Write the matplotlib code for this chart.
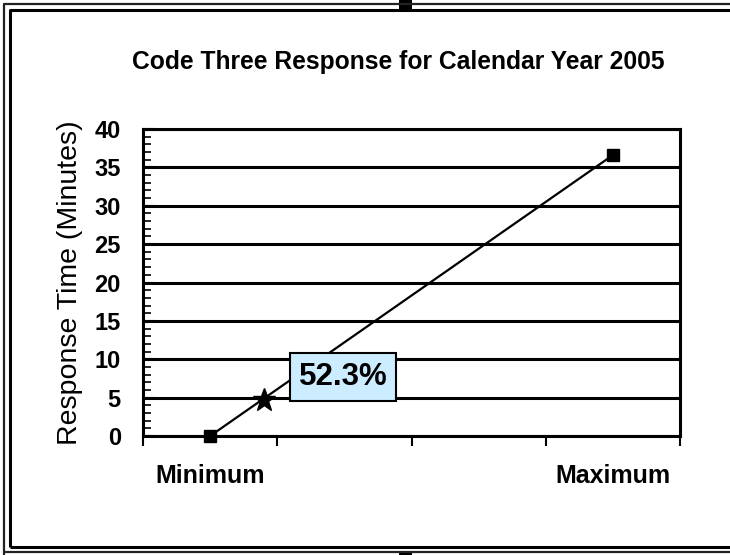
import matplotlib
matplotlib.use("Agg")
import matplotlib.pyplot as plt
from matplotlib.lines import Line2D
from matplotlib.patches import Rectangle
from matplotlib.ticker import MultipleLocator, FixedLocator, NullFormatter

plt.rcParams['font.family'] = ['Liberation Sans', 'DejaVu Sans']

# Chart data
categories = ["Minimum", "", "", "Maximum"]
line_x = [0, 3]
line_y = [0.0, 36.6]
star_x = [0.40]
star_y = [4.7]
note_text = "52.3%"
note_x = 0.99
note_y = 7.7
title = "Code Three Response for Calendar Year 2005"
ylabel = "Response Time (Minutes)"
y_ticks = [0, 5, 10, 15, 20, 25, 30, 35, 40]

W, H = 730, 555
fig = plt.figure(figsize=(W / 100, H / 100), dpi=100)
fig.patch.set_facecolor("white")

ax = fig.add_axes([143 / W, 1 - 436 / H, (680 - 143) / W, (436 - 129) / H])
ax.set_xlim(-0.5, len(categories) - 0.5)
ax.set_ylim(0, 40)

# horizontal gridlines
for yv in y_ticks:
    ax.axhline(yv, color="black", lw=2.2, zorder=1, solid_capstyle="butt")

ax.plot(line_x, line_y, color="black", lw=1.6, zorder=3, clip_on=False,
        marker="s", markersize=8, markerfacecolor="black", markeredgecolor="black")
ax.plot(star_x, star_y, linestyle="none", marker="*", markersize=17,
        color="black", zorder=4)

ax.text(note_x, note_y, note_text, ha="center", va="center", fontsize=22.5,
        fontweight="bold", zorder=5,
        bbox=dict(boxstyle="square,pad=0.28", facecolor="#CCECFF",
                  edgecolor="black", linewidth=1.5))

for side in ["left", "right", "top", "bottom"]:
    ax.spines[side].set_linewidth(2.2)
    ax.spines[side].set_color("black")

# y axis: major ticks every 5, minor ticks every minute, pointing inward
ax.yaxis.set_major_locator(FixedLocator(y_ticks))
ax.yaxis.set_minor_locator(MultipleLocator(1))
ax.tick_params(axis="y", which="major", direction="in", length=8, width=1.5,
               labelsize=17, pad=16)
ax.tick_params(axis="y", which="minor", direction="in", length=6, width=1.2)
for lbl in ax.get_yticklabels():
    lbl.set_fontweight("bold")

# x axis: ticks on category boundaries, labels at category centres
ax.xaxis.set_major_locator(FixedLocator([i - 0.5 for i in range(len(categories) + 1)]))
ax.xaxis.set_major_formatter(NullFormatter())
ax.xaxis.set_minor_locator(FixedLocator(list(range(len(categories)))))
ax.set_xticklabels(categories, minor=True)
ax.tick_params(axis="x", which="minor", length=0, labelsize=18, pad=20)
ax.tick_params(axis="x", which="major", direction="out", length=7, width=1.5)
for lbl in ax.get_xticklabels(minor=True):
    lbl.set_fontweight("bold")

ax.set_ylabel(ylabel, fontsize=20.5, labelpad=8)

fig.text(398 / W, 1 - 62 / H, title, ha="center", va="center",
         fontsize=17.7, fontweight="bold")

# double frame on the left, top and bottom edges
def frame_line(xs, ys, lw, color):
    fig.add_artist(Line2D([x / W for x in xs], [1 - y / H for y in ys],
                          transform=fig.transFigure, lw=lw, color=color,
                          solid_capstyle="butt"))

frame_line([4, 4, 760], [760, 4, 4], 1.6, "#222222")
frame_line([4, 760], [552, 552], 1.6, "#222222")
frame_line([10, 10, 760], [547, 10, 10], 2.2, "black")
frame_line([10, 760], [547, 547], 2.2, "black")

# selection handles
fig.add_artist(Rectangle((399 / W, 1 - 10 / H), 13 / W, 10 / H, transform=fig.transFigure,
                         facecolor="black", edgecolor="none"))
fig.add_artist(Rectangle((399 / W, 0), 13 / W, 4 / H, transform=fig.transFigure,
                         facecolor="black", edgecolor="none"))

fig.savefig("out.png", dpi=100, facecolor="white")
